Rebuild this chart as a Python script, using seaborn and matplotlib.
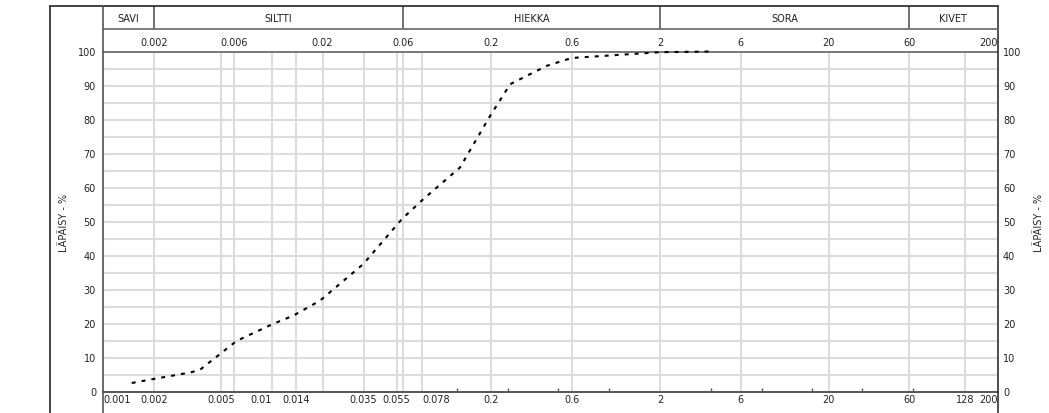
import numpy as np
import matplotlib.pyplot as plt
import seaborn as sns
from matplotlib.lines import Line2D
from matplotlib.ticker import NullFormatter, NullLocator

# ===== rakeinen: raekoko (mm) ja läpäisy (%) =====
grain_size = [0.00148, 0.002, 0.0033, 0.00376, 0.0062, 0.0102, 0.0134, 0.0193,
              0.0349, 0.059, 0.0792, 0.1306, 0.197, 0.259, 0.427, 0.600, 2.0, 3.96]
passing = [2.5, 3.7, 5.6, 6.4, 14.9, 19.9, 22.3, 26.7,
           37.5, 50.7, 56.6, 65.9, 81.1, 90.4, 95.8, 98.1, 99.8, 100]

# akselien jaotukset
bottom_ticks = [0.001, 0.002, 0.005, 0.01, 0.014, 0.035, 0.055, 0.078,
                0.2, 0.6, 2, 6, 20, 60, 128, 200]
top_ticks = [0.002, 0.006, 0.02, 0.06, 0.2, 0.6, 2, 6, 20, 60, 200]
sieve_sizes = [0.125, 0.25, 0.5, 1, 4, 8, 16, 31.5, 63]
y_ticks = list(range(0, 101, 10))

# maalajiluokat
fraction_names = ['SAVI', 'SILTTI', 'HIEKKA', 'SORA', 'KIVET']
fraction_bounds = [0.001, 0.002, 0.06, 2, 60, 200]

sns.set_style('white')
plt.rcParams['font.family'] = ['Liberation Sans Narrow', 'DejaVu Sans']
plt.rcParams['font.size'] = 7

W, H = 1049, 414
fig = plt.figure(figsize=(W / 100, H / 100), dpi=100)
ax = fig.add_axes([103 / W, 1 - 392.5 / H, 894.5 / W, 340 / H])
ax.set_xscale('log')

sns.lineplot(x=grain_size, y=passing, ax=ax, color='black', linewidth=1.5,
             linestyle=(0, (1.9, 2.9)), estimator=None, zorder=5, clip_on=False)

ax.set_xlim(0.001, 200)
ax.set_ylim(0, 100)

# ruudukko
grid_pos = sorted(set(bottom_ticks) | set(top_ticks))
ax.set_xticks(grid_pos)
ax.set_xticklabels([f'{v:g}' if v in bottom_ticks else '' for v in grid_pos])
ax.set_xticks(sieve_sizes, minor=True)
ax.xaxis.set_minor_formatter(NullFormatter())
ax.set_yticks(y_ticks)
ax.set_yticks(range(5, 100, 10), minor=True)
ax.tick_params(axis='both', which='major', length=0, labelsize=7, colors='#222')
ax.tick_params(axis='x', which='major', pad=2)
ax.tick_params(axis='y', which='major', pad=5)
ax.tick_params(axis='x', which='minor', direction='in', length=3, width=1, color='#555')
ax.tick_params(axis='y', which='minor', length=0)
ax.grid(True, which='major', axis='x', color='#dcdcdc', lw=1.5)
ax.grid(True, which='both', axis='y', color='#dcdcdc', lw=1.5)
ax.set_axisbelow(True)

for lab in ax.get_xticklabels():
    if lab.get_text() in ('0.001', '0.078'):
        lab.set_ha('left')
    elif lab.get_text() in ('0.01', '200'):
        lab.set_ha('right')

ax.spines['left'].set_visible(False)
ax.spines['right'].set_visible(False)
ax.spines['bottom'].set_color('#555')
ax.spines['bottom'].set_linewidth(1.4)
ax.spines['top'].set_color('#777')
ax.spines['top'].set_linewidth(1.4)

ax.set_xlabel('')
ax.set_ylabel('LÄPÄISY - %', fontsize=7)
ax.yaxis.set_label_coords(-0.038, 0.5)

# ylä-akseli
top = ax.twiny()
top.set_xscale('log')
top.set_xlim(ax.get_xlim())
top.set_xticks(top_ticks)
top.set_xticklabels([f'{v:g}' for v in top_ticks])
top.xaxis.set_minor_locator(NullLocator())
top.tick_params(axis='x', length=0, pad=3, labelsize=7, colors='#222')
for s in top.spines.values():
    s.set_visible(False)
for lab in top.get_xticklabels():
    if lab.get_text() == '200':
        lab.set_ha('right')

# oikea akseli
right = ax.twinx()
right.set_ylim(0, 100)
right.set_yticks(y_ticks)
right.tick_params(axis='y', length=0, pad=4, labelsize=7, colors='#222')
for s in right.spines.values():
    s.set_visible(False)
right.set_ylabel('LÄPÄISY - %', fontsize=7)
right.yaxis.set_label_coords(1.0408, 0.5)

# otsikkorivi
xt = ax.get_xaxis_transform()
ax.vlines(fraction_bounds[1:-1], 1.066, 1.1338, transform=xt, clip_on=False,
          color='#666', lw=1.3)
for name, a, b in zip(fraction_names, fraction_bounds[:-1], fraction_bounds[1:]):
    ax.text(np.sqrt(a * b), 1.1, name, transform=xt, ha='center', va='center',
            fontsize=7, color='#222')


def fline(x0, y0, x1, y1, color, lw=1.2):
    fig.add_artist(Line2D([x0 / W, x1 / W], [1 - y0 / H, 1 - y1 / H],
                          color=color, lw=lw))


fline(50, 7, 997.5, 7, '#222')
fline(50, 7, 50, 414, '#222')
fline(103, 7, 103, 414, '#555')
fline(997.5, 7, 997.5, 414, '#333')
fline(103, 30, 997.5, 30, '#666')

fig.savefig('out.png', dpi=100)
